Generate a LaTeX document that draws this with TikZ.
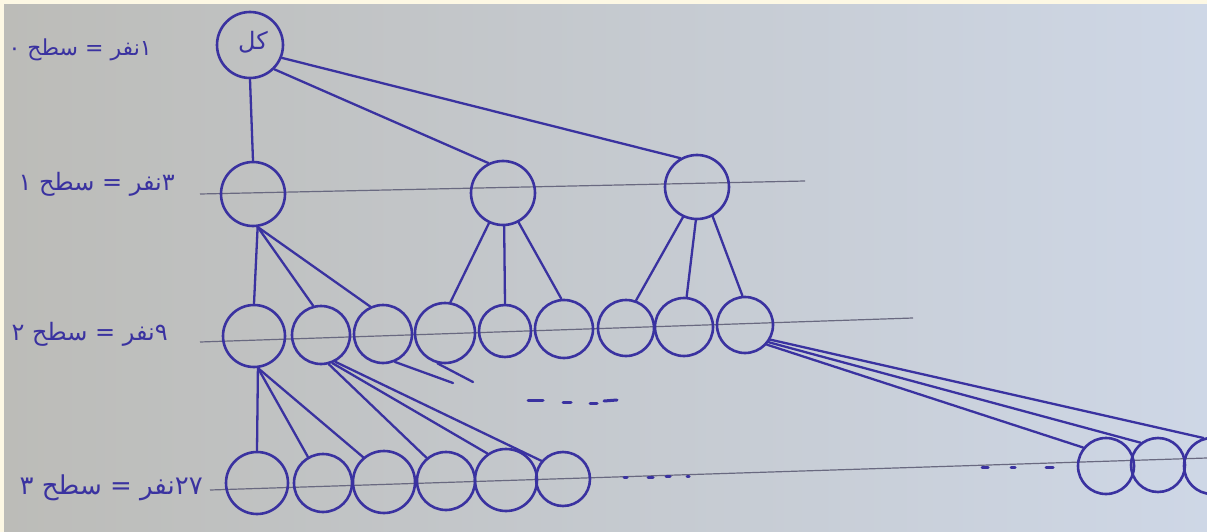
\documentclass[tikz,border=0pt]{standalone}
\usepackage{fontspec}
\newfontfamily\arabicfont[Script=Arabic]{DejaVu Sans}
\TeXXeTstate=1
\definecolor{ink}{RGB}{58,50,160}
\definecolor{pencil}{RGB}{105,105,128}
\definecolor{paperL}{RGB}{188,188,184}
\definecolor{paperR}{RGB}{206,215,230}
\definecolor{framec}{RGB}{253,248,228}
\begin{document}
\begin{tikzpicture}[x=1pt,y=-1pt,
  person/.style={circle,draw=ink,line width=2.6pt,minimum size=60pt,inner sep=0pt},
  tie/.style={draw=ink,line width=2.3pt,line cap=round},
  guide/.style={draw=pencil,line width=1.2pt},
  inkdash/.style={draw=ink,line width=3pt,line cap=round},
  lbl/.style={text=ink,inner sep=0pt,anchor=east,font=\arabicfont\fontsize{24}{28}\selectfont},
  rootlbl/.style={text=ink,inner sep=0pt,font=\arabicfont\fontsize{24}{28}\selectfont}]
\useasboundingbox (0,0) rectangle (1207,532);
\fill[framec] (0,0) rectangle (1207,532);
\shade[left color=paperL,right color=paperR] (4,5) rectangle (1207,532);

% guide lines
\draw[guide] (200,194) -- (805,181);
\draw[guide] (200,342) -- (913,318);
\draw[guide] (210,490) -- (1207,458);

% labels
\node[lbl,font=\arabicfont\fontsize{22}{26}\selectfont] (t0) at (152,50) {\beginR\beginL ۱\endL{}نفر = سطح ۰\endR};
\node[lbl] (t1) at (175,184) {\beginR\beginL ۳\endL{}نفر = سطح ۱\endR};
\node[lbl] (t2) at (168,334) {\beginR\beginL ۹\endL{}نفر = سطح ۲\endR};
\node[lbl,font=\arabicfont\fontsize{26}{30}\selectfont] (t3) at (203,488) {\beginR\beginL ۲۷\endL{}نفر = سطح ۳\endR};

% level 0
\node[person,minimum size=66pt] (r0) at (250,45) {};
\node[rootlbl] (rt) at (253,42) {\beginR کل\endR};

% level 1
\node[person,minimum size=64pt] (a1) at (253,194) {};
\node[person,minimum size=64pt] (a2) at (503,193) {};
\node[person,minimum size=64pt] (a3) at (697,187) {};

% level 2
\node[person,minimum size=62pt] (b1) at (254,336) {};
\node[person,minimum size=58pt] (b2) at (321,335) {};
\node[person,minimum size=58pt] (b3) at (383,334) {};
\node[person,minimum size=60pt] (b4) at (445,333) {};
\node[person,minimum size=52pt] (b5) at (505,331) {};
\node[person,minimum size=58pt] (b6) at (564,329) {};
\node[person,minimum size=56pt] (b7) at (626,328) {};
\node[person,minimum size=58pt] (b8) at (684,327) {};
\node[person,minimum size=56pt] (b9) at (745,325) {};

% level 3
\node[person,minimum size=62pt] (c1) at (257,483) {};
\node[person,minimum size=58pt] (c2) at (323,483) {};
\node[person,minimum size=62pt] (c3) at (384,482) {};
\node[person,minimum size=58pt] (c4) at (446,481) {};
\node[person,minimum size=62pt] (c5) at (506,480) {};
\node[person,minimum size=54pt] (c6) at (563,479) {};
\node[person,minimum size=56pt] (d1) at (1106,466) {};
\node[person,minimum size=54pt] (d2) at (1158,465) {};
\node[person,minimum size=56pt] (d3) at (1212,466) {};

% connectors level 0 -> 1
\draw[tie] (r0.south) -- (a1.north);
\draw[tie] (r0.-45) -- (a2.116);
\draw[tie] (r0.-22) -- (a3.120);

% level 1 -> 2
\draw[tie] (a1.-82) -- (b1.north);
\draw[tie] (a1.-82) -- (b2.105);
\draw[tie] (a1.-82) -- (b3.115);
\draw[tie] (a2.-115) -- (b4.80);
\draw[tie] (a2.-88) -- (b5.north);
\draw[tie] (a2.-62) -- (b6.95);
\draw[tie] (a3.-115) -- (b7.70);
\draw[tie] (a3.-92) -- (b8.85);
\draw[tie] (a3.-62) -- (b9.95);

% level 2 -> 3
\draw[tie] (b1.-83) -- (c1.north);
\draw[tie] (b1.-83) -- (c2.120);
\draw[tie] (b1.-83) -- (c3.130);
\draw[tie] (b2.-75) -- (c4.130);
\draw[tie] (b2.-68) -- (c5.125);
\draw[tie] (b2.-62) -- (c6.140);
\coordinate (s1) at (453,383);
\coordinate (s2) at (473,382);
\draw[tie] (b3.-67) -- (s1);
\draw[tie] (b4.-104) -- (s2);
\draw[tie] (b9.-30) -- (d3.107);
\draw[tie] (b9.-36) -- (d2.128);
\draw[tie] (b9.-42) -- (d1.141);

% ellipsis marks
\draw[inkdash] (528,400) -- (543,400);
\draw[inkdash] (563,402) -- (571,402);
\draw[inkdash] (590,403) -- (597,403);
\draw[inkdash] (604,401) -- (617,400);
\draw[inkdash] (624,477) -- (627,477);
\draw[inkdash] (648,477) -- (653,477);
\draw[inkdash] (666,476) -- (670,476);
\draw[inkdash] (687,476) -- (689,476);
\draw[inkdash] (982,467) -- (988,467);
\draw[inkdash] (1011,467) -- (1015,467);
\draw[inkdash] (1046,467) -- (1053,467);
\end{tikzpicture}
\end{document}
